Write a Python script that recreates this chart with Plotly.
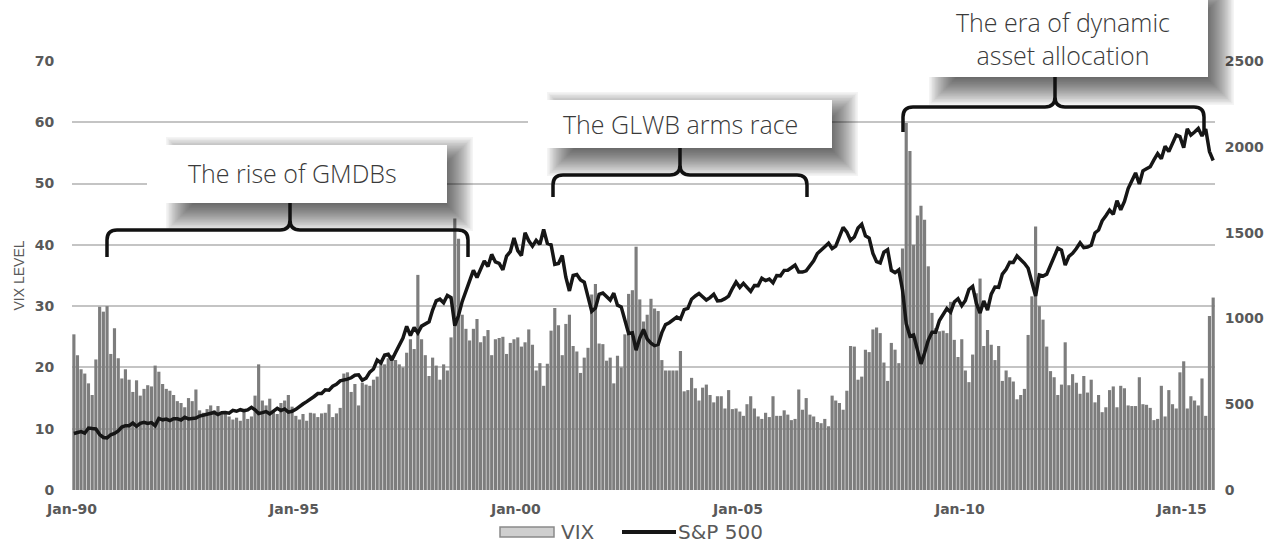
import pandas as pd
import plotly.graph_objects as go

# ---------------- data (monthly closes, Jan-1990 .. Sep-2015) ----------------
vix_1990s = [
    25.4, 22.0, 19.7, 19.0, 17.4, 15.5, 21.3, 29.9, 29.1, 30.0, 22.2, 26.4,   # 1990
    21.5, 18.2, 19.7, 18.0, 16.0, 17.9, 15.4, 16.5, 17.1, 16.9, 20.3, 19.3,   # 1991
    17.3, 16.5, 16.2, 15.5, 14.5, 14.2, 13.5, 15.0, 14.5, 16.4, 13.0, 12.6,   # 1992
    13.2, 13.8, 13.0, 13.7, 12.5, 12.4, 12.0, 11.5, 11.8, 11.3, 12.9, 11.6,   # 1993
    12.0, 15.4, 20.5, 14.6, 13.8, 14.9, 12.9, 12.4, 14.2, 14.6, 15.5, 13.6,   # 1994
    12.1, 11.5, 12.4, 11.3, 12.6, 12.5, 11.9, 12.5, 12.6, 14.0, 11.9, 12.5,   # 1995
    13.4, 19.0, 19.2, 16.0, 17.3, 13.8, 17.5, 17.2, 17.0, 18.0, 18.5, 20.9,   # 1996
    20.5, 21.5, 22.0, 21.2, 20.5, 20.0, 22.4, 24.6, 23.0, 35.1, 24.6, 22.0,   # 1997
    18.6, 21.6, 20.3, 18.0, 20.5, 19.5, 24.9, 44.3, 41.0, 28.6, 26.3, 24.4,   # 1998
    26.3, 27.9, 24.1, 25.1, 26.1, 22.0, 24.6, 24.8, 25.0, 22.2, 24.0, 24.6,   # 1999
]
vix_2000s = [
    24.9, 23.4, 24.1, 26.2, 23.7, 19.5, 20.7, 17.0, 20.6, 26.0, 29.7, 26.9,   # 2000
    22.0, 27.1, 28.6, 23.5, 22.6, 19.1, 21.6, 23.2, 31.9, 33.6, 23.9, 23.8,   # 2001
    21.1, 21.6, 17.4, 21.9, 20.0, 25.4, 32.0, 32.6, 39.7, 31.1, 27.5, 28.6,   # 2002
    31.2, 29.6, 29.2, 21.2, 19.5, 19.5, 19.5, 19.5, 22.7, 16.1, 16.3, 18.3,   # 2003
    16.6, 14.6, 16.7, 17.2, 15.5, 14.3, 15.3, 15.3, 13.3, 16.3, 13.2, 13.3,   # 2004
    12.8, 12.1, 14.0, 15.3, 13.3, 12.0, 11.6, 12.6, 11.9, 15.3, 12.1, 12.1,   # 2005
    13.0, 12.3, 11.4, 11.6, 16.4, 13.1, 15.0, 12.3, 12.0, 11.1, 10.9, 11.6,   # 2006
    10.4, 15.4, 14.6, 14.2, 13.1, 16.2, 23.5, 23.4, 18.0, 18.5, 22.9, 22.5,   # 2007
    26.2, 26.5, 25.6, 20.8, 17.8, 24.0, 22.9, 20.7, 39.4, 59.9, 55.3, 40.0,   # 2008
    44.8, 46.4, 44.1, 36.5, 28.9, 26.4, 25.9, 26.0, 25.6, 30.7, 24.5, 21.7,   # 2009
]
vix_2010s = [
    24.6, 19.5, 17.6, 22.1, 32.1, 34.5, 23.5, 26.1, 23.7, 21.2, 23.5, 17.8,   # 2010
    19.5, 18.4, 17.7, 14.8, 15.5, 16.5, 25.3, 31.6, 43.0, 30.0, 27.8, 23.4,   # 2011
    19.4, 18.4, 15.5, 17.2, 24.1, 17.1, 18.9, 17.5, 15.7, 18.6, 15.9, 18.0,   # 2012
    14.3, 15.5, 12.7, 13.5, 16.3, 16.9, 13.5, 17.0, 16.6, 13.8, 13.7, 13.7,   # 2013
    18.4, 14.0, 13.9, 13.4, 11.4, 11.6, 17.0, 12.0, 16.3, 14.0, 13.3, 19.2,   # 2014
    21.0, 13.3, 15.3, 14.6, 13.8, 18.2, 12.1, 28.4, 31.4,                     # 2015
]

sp500_1990s = [
    329, 332, 340, 331, 361, 358, 356, 323, 306, 304, 322, 330,
    344, 367, 375, 375, 390, 371, 388, 395, 388, 393, 375, 417,
    409, 413, 404, 415, 415, 408, 424, 414, 418, 419, 431, 436,
    439, 443, 452, 440, 450, 451, 448, 464, 459, 468, 462, 467,
    482, 467, 446, 451, 457, 444, 458, 476, 463, 472, 454, 459,
    470, 487, 501, 515, 533, 545, 562, 562, 584, 582, 605, 616,
    636, 640, 646, 654, 669, 671, 640, 652, 687, 705, 757, 741,
    786, 791, 757, 801, 848, 885, 954, 900, 947, 915, 955, 970,
    980, 1049, 1102, 1112, 1091, 1134, 1121, 957, 1017, 1099, 1164, 1229,
    1280, 1238, 1286, 1335, 1302, 1373, 1329, 1320, 1283, 1363, 1389, 1469,
]
sp500_2000s = [
    1395, 1366, 1499, 1452, 1421, 1455, 1431, 1518, 1437, 1429, 1315, 1320,
    1366, 1240, 1160, 1250, 1256, 1224, 1211, 1134, 1041, 1060, 1140, 1148,
    1130, 1107, 1147, 1077, 1067, 990, 912, 916, 815, 886, 936, 880,
    856, 841, 848, 917, 964, 975, 990, 1008, 996, 1051, 1058, 1112,
    1131, 1145, 1126, 1107, 1121, 1141, 1102, 1104, 1115, 1130, 1174, 1212,
    1181, 1204, 1181, 1157, 1192, 1191, 1234, 1220, 1229, 1207, 1250, 1248,
    1280, 1281, 1295, 1311, 1270, 1270, 1277, 1304, 1336, 1378, 1401, 1418,
    1438, 1407, 1421, 1482, 1531, 1503, 1455, 1474, 1527, 1549, 1481, 1468,
    1379, 1331, 1323, 1386, 1400, 1280, 1267, 1283, 1166, 969, 896, 903,
    826, 735, 798, 873, 919, 919, 988, 1021, 1057, 1036, 1096, 1115,
]
sp500_2010s = [
    1074, 1105, 1169, 1187, 1089, 1031, 1102, 1049, 1141, 1183, 1181, 1258,
    1286, 1327, 1326, 1364, 1345, 1321, 1292, 1219, 1131, 1253, 1247, 1258,
    1312, 1366, 1409, 1398, 1310, 1362, 1379, 1407, 1441, 1412, 1416, 1426,
    1498, 1515, 1569, 1598, 1631, 1606, 1686, 1633, 1682, 1757, 1806, 1848,
    1783, 1860, 1872, 1884, 1924, 1960, 1931, 2003, 1972, 2018, 2068, 2059,
    1995, 2105, 2068, 2086, 2107, 2063, 2104, 1972, 1920,
]

vix = vix_1990s + vix_2000s + vix_2010s
sp500 = sp500_1990s + sp500_2000s + sp500_2010s
months = pd.date_range("1990-01-01", periods=len(vix), freq="MS")

tick_dates = ["1990-01-01", "1995-01-01", "2000-01-01", "2005-01-01", "2010-01-01", "2015-01-01"]
tick_labels = ["Jan-90", "Jan-95", "Jan-00", "Jan-05", "Jan-10", "Jan-15"]

series_names = ["VIX", "S&P 500"]
eras = ["The rise of GMDBs", "The GLWB arms race", "The era of dynamic<br>asset allocation"]

# ---------------- layout geometry (pixels) ----------------
W, H = 1267, 550
ML, MR, MT, MB = 72, 52, 61, 60
PW, PH = W - ML - MR, H - MT - MB


def px(x):
    return (x - ML) / PW


def py(y):
    return (H - MB - y) / PH


GREY = "#595959"
BAR = "#7d7d7d"
LINE = "#161616"

fig = go.Figure()
fig.add_trace(go.Bar(
    x=months, y=vix, name=series_names[0], xperiod="M1", xperiodalignment="middle",
    marker=dict(color=BAR, line=dict(width=0)), showlegend=False,
))
fig.add_trace(go.Scatter(
    x=months, y=sp500, name=series_names[1], yaxis="y2", mode="lines",
    xperiod="M1", xperiodalignment="middle", showlegend=False,
    line=dict(color=LINE, width=3.5),
))

shapes = []
annotations = []


def add_callout(box, text, text_xy, bracket):
    bx0, by0, bx1, by1 = box
    # soft drop shadow (stacked translucent rectangles)
    sx0, sy0, sx1, sy1 = bx0 + 35, by0 + 8, bx1 + 10, by1 + 12
    n, blur = 22, 16
    for i in range(n):
        e = blur * (1 - 2 * i / (n - 1))
        shapes.append(dict(type="rect", xref="paper", yref="paper", layer="above",
                           x0=px(sx0 - e), x1=px(sx1 + e), y0=py(sy1 + e), y1=py(sy0 - e),
                           fillcolor="rgba(0,0,0,0.042)", line=dict(width=0)))
    shapes.append(dict(type="rect", xref="paper", yref="paper", layer="above",
                       x0=px(bx0), x1=px(bx1), y0=py(by1), y1=py(by0),
                       fillcolor="white", line=dict(width=0)))
    annotations.append(dict(xref="paper", yref="paper", x=px(text_xy[0]), y=py(text_xy[1]),
                            text=text, showarrow=False, xanchor="center", yanchor="middle",
                            font=dict(family="Open Sans", size=25, color="#3a3a3a", weight=300)))
    lx, rx, hy, ey, tx, ty = bracket
    r = 10
    pts = [
        ("M", lx, ey), ("L", lx, hy + r), ("Q", lx, hy, lx + r, hy), ("L", tx - r, hy),
        ("Q", tx, hy, tx, hy - r), ("L", tx, ty), ("M", tx, hy - r), ("Q", tx, hy, tx + r, hy),
        ("L", rx - r, hy), ("Q", rx, hy, rx, hy + r), ("L", rx, ey),
    ]
    path = ""
    for p in pts:
        if p[0] == "Q":
            path += f"Q{px(p[1]):.5f},{py(p[2]):.5f} {px(p[3]):.5f},{py(p[4]):.5f} "
        else:
            path += f"{p[0]}{px(p[1]):.5f},{py(p[2]):.5f} "
    shapes.append(dict(type="path", xref="paper", yref="paper", layer="above", path=path,
                       line=dict(color="#111111", width=3.5)))


add_callout((147, 145, 447, 203), eras[0], (292, 173), (107, 468, 230, 257, 290, 203))
add_callout((528, 100, 832, 148), eras[1], (680, 124), (553, 807, 175, 197, 680, 148))
add_callout((910, -8, 1208, 77), eras[2], (1063, 39), (903, 1204, 107, 132, 1055, 77))

# ---------------- legend (drawn below the plot) ----------------
LEG_Y = 532
shapes.append(dict(type="rect", xref="paper", yref="paper", x0=px(500), x1=px(554),
                   y0=py(LEG_Y + 5), y1=py(LEG_Y - 5), fillcolor="#cfcfcf",
                   line=dict(color="#8a8a8a", width=1.5)))
annotations.append(dict(xref="paper", yref="paper", x=px(559), y=py(LEG_Y), text=series_names[0],
                        showarrow=False, xanchor="left", yanchor="middle",
                        font=dict(family="DejaVu Sans", size=20, color=GREY)))
shapes.append(dict(type="line", xref="paper", yref="paper", x0=px(622), x1=px(676),
                   y0=py(LEG_Y), y1=py(LEG_Y), line=dict(color=LINE, width=4)))
annotations.append(dict(xref="paper", yref="paper", x=px(676), y=py(LEG_Y), text=series_names[1],
                        showarrow=False, xanchor="left", yanchor="middle",
                        font=dict(family="DejaVu Sans", size=20, color=GREY)))

fig.update_layout(
    width=W, height=H,
    margin=dict(l=ML, r=MR, t=MT, b=MB, autoexpand=False),
    paper_bgcolor="white", plot_bgcolor="white",
    bargap=0.12,
    showlegend=False,
    xaxis=dict(type="date", range=["1990-01-01", "2015-10-01"], tickvals=tick_dates,
               ticktext=tick_labels, showgrid=False, zeroline=False, showline=False,
               automargin=False,
               ticks="outside", ticklen=6, tickcolor="rgba(0,0,0,0)",
               tickfont=dict(family="DejaVu Sans", size=14, color=GREY, weight="bold")),
    yaxis=dict(range=[0, 70], dtick=10, showgrid=True, gridcolor="#c4c4c4", gridwidth=1.5,
               zeroline=False, showline=False, ticks="outside", ticklen=14,
               tickcolor="rgba(0,0,0,0)", automargin=False,
               tickfont=dict(family="DejaVu Sans", size=14, color=GREY, weight="bold"),
               title=dict(text="VIX LEVEL", standoff=6,
                          font=dict(family="Liberation Sans", size=14, color=GREY))),
    yaxis2=dict(range=[0, 2500], dtick=500, overlaying="y", side="right", showgrid=False,
                zeroline=False, showline=False, ticks="outside", ticklen=6,
                tickcolor="rgba(0,0,0,0)", automargin=False,
                tickfont=dict(family="DejaVu Sans", size=14, color=GREY, weight="bold")),
    shapes=shapes,
    annotations=annotations,
)

fig.write_html("out.html", config={"displayModeBar": False},
               post_script="document.body.style.margin='0';")
